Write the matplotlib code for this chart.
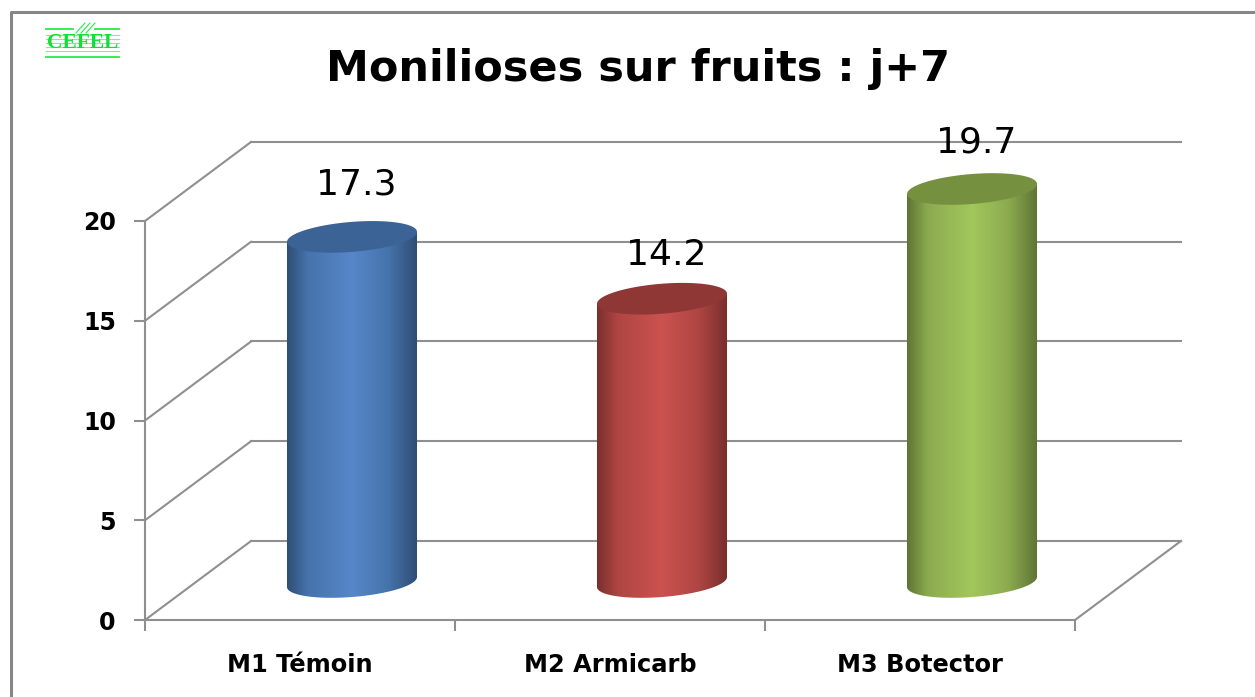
import numpy as np
import matplotlib
matplotlib.use("Agg")
import matplotlib.pyplot as plt
from matplotlib.path import Path
from matplotlib.patches import PathPatch
from matplotlib.colors import LinearSegmentedColormap
from matplotlib.lines import Line2D

W, H = 1255, 697
categories = ["M1 Témoin", "M2 Armicarb", "M3 Botector"]
values = [17.3, 14.2, 19.7]
value_labels = ["17.3", "14.2", "19.7"]
title = "Monilioses sur fruits : j+7"
y_ticks = [0, 5, 10, 15, 20]
edge_colors = ["#2F4E75", "#7A2F2D", "#5F7534"]
shoulder_colors = ["#4673AC", "#AF4643", "#8CAB50"]
mid_colors = ["#5687C8", "#CB524F", "#A2C75C"]
top_colors = ["#3B6395", "#8F3734", "#75903F"]
label_lift_px = [52, 44, 46]

GRID = "#8f8f8f"
AX_L, AX_R, AX_T, AX_B = 145, 1075, 221, 620
DX_PX, DY_PX = 106, 79
R_PX, B_PX, SHEAR_PX = 65, 15, 5
BASE_LIFT_PX = 38
BAR_SHIFT_PX = 52

plt.rcParams["font.family"] = ["DejaVu Sans"]
fig = plt.figure(figsize=(W / 100, H / 100), dpi=100, facecolor="white")
ax = fig.add_axes([AX_L / W, 1 - AX_B / H, (AX_R - AX_L) / W, (AX_B - AX_T) / H])
ax.set_xlim(-0.5, 2.5)
ax.set_ylim(0, 20)
ax.patch.set_visible(False)

sx = 3 / (AX_R - AX_L)          # data per pixel, x
sy = 20 / (AX_B - AX_T)         # data per pixel, y
ddx, ddy = DX_PX * sx, DY_PX * sy

# Axes, ticks
for s in ("top", "right"):
    ax.spines[s].set_visible(False)
for s in ("left", "bottom"):
    ax.spines[s].set_color(GRID)
    ax.spines[s].set_linewidth(1.5)
ax.set_yticks(y_ticks)
ax.set_yticklabels([str(v) for v in y_ticks], fontsize=17, fontweight="bold")
ax.tick_params(axis="y", length=8, width=1.5, color=GRID, pad=13)
ax.set_xticks([-0.5, 0.5, 1.5, 2.5])
ax.set_xticklabels([])
ax.set_xticks(range(len(categories)), labels=categories, minor=True)
ax.tick_params(axis="x", which="major", length=8, width=1.5, color=GRID)
ax.tick_params(axis="x", which="minor", length=0, pad=24, labelsize=17.4)
for t in ax.get_xticklabels(minor=True):
    t.set_fontweight("bold")

# 3D walls and floor
for v in y_ticks:
    ax.plot([-0.5, -0.5 + ddx], [v, v + ddy], color=GRID, lw=1.5, clip_on=False, zorder=1)
    x_end = 2.5 + ddx
    ax.plot([-0.5 + ddx, x_end], [v + ddy, v + ddy], color=GRID, lw=1.5, clip_on=False, zorder=1)
ax.plot([2.5, 2.5 + ddx], [0, ddy], color=GRID, lw=1.5, clip_on=False, zorder=1)

# Cylinders
t_top = np.linspace(0, 2 * np.pi, 120)
t_low = np.linspace(np.pi, 2 * np.pi, 60)


def rim(xc, yc, t):
    # xc, yc in data units; the ellipse is sheared to look tilted
    x = xc + R_PX * sx * np.cos(t)
    y = yc + B_PX * sy * np.sin(t) + SHEAR_PX * sy * np.cos(t)
    return x, y


base = BASE_LIFT_PX * sy
shift = BAR_SHIFT_PX * sx
for i, v in enumerate(values):
    xc = i + shift
    xb, yb = rim(xc, base, t_low)          # lower half of the base
    xt, yt = rim(xc, base + v, np.array([0.0, np.pi]))
    verts = np.vstack([np.column_stack([xb, yb]), np.column_stack([xt, yt]), [[xb[0], yb[0]]]])
    codes = [Path.MOVETO] + [Path.LINETO] * (len(verts) - 2) + [Path.CLOSEPOLY]
    clip = PathPatch(Path(verts, codes), fc="none", ec="none", transform=ax.transData, clip_on=False)
    ax.add_patch(clip)
    cmap = LinearSegmentedColormap.from_list(
        "c", [(0, edge_colors[i]), (0.16, shoulder_colors[i]), (0.5, mid_colors[i]),
              (0.78, shoulder_colors[i]), (1, edge_colors[i])])
    grad = np.linspace(0, 1, 256).reshape(1, -1)
    im = ax.imshow(grad, cmap=cmap, aspect="auto", zorder=3,
                   extent=[xc - R_PX * sx, xc + R_PX * sx, base - 2, base + v + 2])
    im.set_clip_box(fig.bbox)
    im.set_clip_path(clip)
    xr, yr = rim(xc, base + v, t_top)
    ax.fill(xr, yr, color=top_colors[i], zorder=4, clip_on=False, lw=0)
    ax.annotate(value_labels[i], (xc, base + v), xytext=(4 * 0.72, label_lift_px[i] * 0.72),
                textcoords="offset points", ha="center", va="center", fontsize=26,
                color="black", zorder=5, annotation_clip=False)
ax.set_xlim(-0.5, 2.5)
ax.set_ylim(0, 20)

# Title
fig.text(638 / W, 1 - 69 / H, title, ha="center", va="center", fontsize=31, fontweight="bold")

# Frame, cut by the right and bottom edges of the picture
fig.add_artist(Line2D([10.5 / W, 10.5 / W, 1], [0, 1 - 11.5 / H, 1 - 11.5 / H],
                      transform=fig.transFigure, color="#868686", lw=2.2))

# Logo
LOGO = "#22ee44"
for xs, y in (([46, 73], 28.5), ([95, 119], 28.5), ([46, 119], 57)):
    fig.add_artist(Line2D([x / W for x in xs], [1 - y / H] * 2, transform=fig.transFigure, color=LOGO, lw=1.3))
for x0 in (76, 81, 86):
    fig.add_artist(Line2D([x0 / W, (x0 + 9) / W], [1 - 33 / H, 1 - 23 / H], transform=fig.transFigure, color=LOGO, lw=0.8))
for y in (35, 39, 43, 47, 51):
    fig.add_artist(Line2D([46 / W, 119 / W], [1 - y / H] * 2, transform=fig.transFigure, color="#7cf28e", lw=0.8))
fig.text(82.5 / W, 1 - 43.5 / H, "CEFEL", ha="center", va="center", fontsize=15.5,
         family="Liberation Serif", fontweight="bold", color="#10e030")

fig.savefig("out.png", dpi=100)
